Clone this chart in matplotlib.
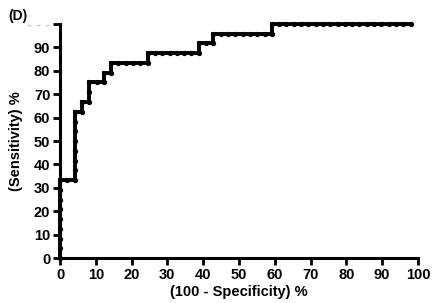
import matplotlib
matplotlib.use("Agg")
import matplotlib.pyplot as plt
import numpy as np

plt.rcParams["font.family"] = ["Liberation Sans", "DejaVu Sans"]
plt.rcParams["font.weight"] = "bold"

N_CONTROLS = 49
N_CASES = 24

# ROC points as counts of false positives / true positives at each cut-off
fp_count = [0, 0, 0, 0, 0, 0, 0, 0, 0, 1, 2,
            2, 2, 2, 2, 2, 2, 2, 3, 3, 4, 4, 4, 5, 6,
            6, 7, 7, 8, 9, 10, 11, 12, 12,
            13, 14, 15, 16, 17, 18, 19, 19, 20, 21, 21,
            22, 23, 24, 25, 26, 27, 28, 29, 29,
            30, 31, 32, 33, 34, 35, 36, 37, 38, 39,
            40, 41, 42, 43, 44, 45, 46, 47, 48]
tp_count = [0, 1, 2, 3, 4, 5, 6, 7, 8, 8, 8,
            9, 10, 11, 12, 13, 14, 15, 15, 16, 16, 17, 18, 18, 18,
            19, 19, 20, 20, 20, 20, 20, 20, 21,
            21, 21, 21, 21, 21, 21, 21, 22, 22, 22, 23,
            23, 23, 23, 23, 23, 23, 23, 23, 24,
            24, 24, 24, 24, 24, 24, 24, 24, 24, 24,
            24, 24, 24, 24, 24, 24, 24, 24, 24]

x_ticks = list(range(0, 101, 10))
y_ticks = list(range(0, 101, 10))
y_tick_labels = [str(v) for v in y_ticks[:-1]] + ["- - -"]

fpr = 100 * np.array(fp_count) / N_CONTROLS
tpr = 100 * np.array(tp_count) / N_CASES

fig = plt.figure(figsize=(4.39, 3.03), dpi=100)
ax = fig.add_axes([0.1367, 0.1485, 0.8153, 0.7723])
ax.plot(fpr, tpr, color="black", lw=2.8, marker="o", ms=2.8,
        solid_joinstyle="miter", clip_on=False, zorder=3)

ax.set_xlim(0, 100)
ax.set_ylim(0, 100)
ax.set_xticks(x_ticks)
ax.set_yticks(y_ticks)
ax.set_yticklabels(y_tick_labels)
ax.get_yticklabels()[-1].set_color("#c8c8c8")
for side in ("top", "right"):
    ax.spines[side].set_visible(False)
for side in ("left", "bottom"):
    ax.spines[side].set_linewidth(2.2)
ax.tick_params(direction="out", length=5, width=2, labelsize=10.5, pad=2)
for lab in ax.get_xticklabels() + ax.get_yticklabels():
    lab.set_fontweight("bold")

ax.set_xlabel("(100 - Specificity) %", fontsize=10.5, fontweight="bold", labelpad=2)
ax.set_ylabel("(Sensitivity) %", fontsize=10.5, fontweight="bold", labelpad=3)
fig.text(0.018, 0.948, "(D)", fontsize=10, fontweight="bold", va="center")

fig.savefig("out.png", dpi=100)
